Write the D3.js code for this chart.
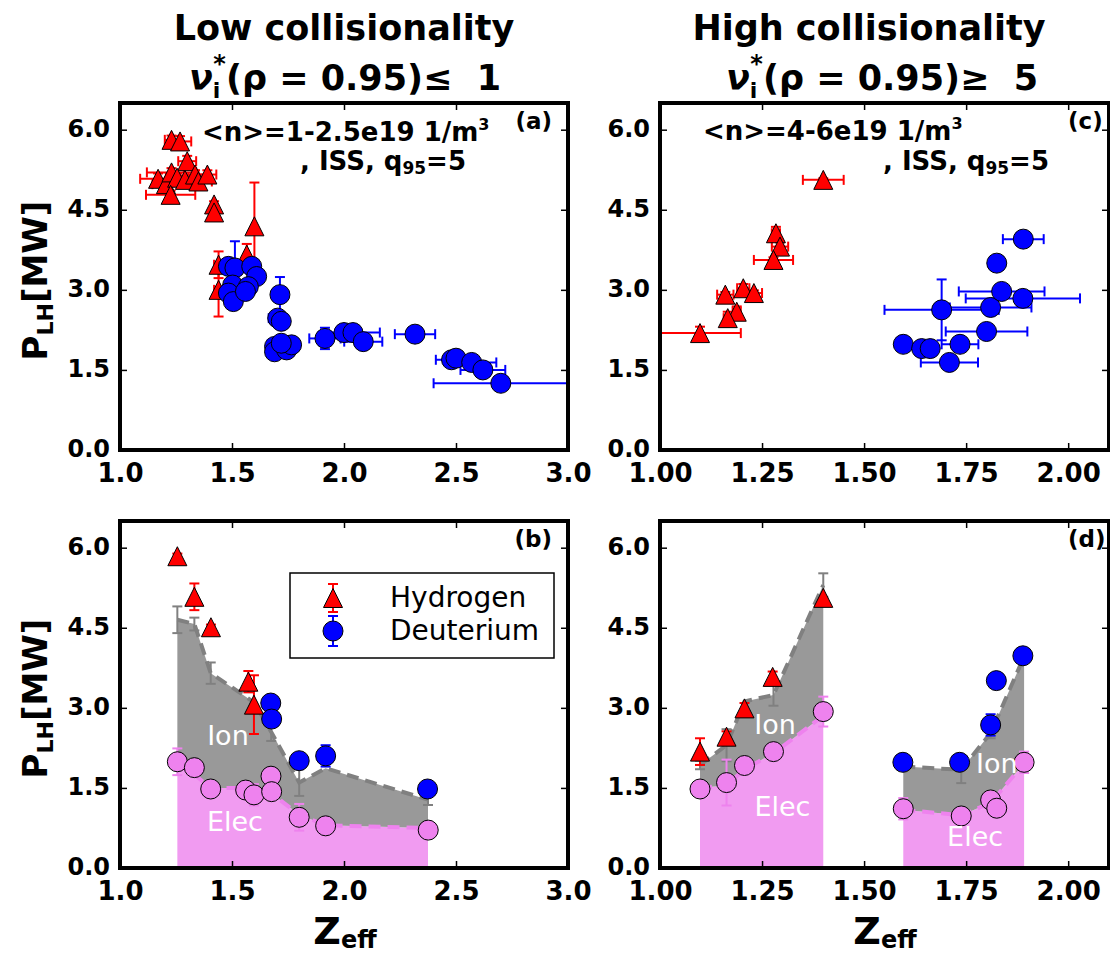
<!DOCTYPE html>
<html><head><meta charset="utf-8">
<script src="https://cdn.jsdelivr.net/npm/d3@7"></script>
<style>
body{margin:0;background:#fff}
svg{display:block}
text{font-family:"DejaVu Sans",sans-serif}
</style>
</head><body>
<svg id="chart" width="1110" height="956"></svg>
<script>
// ---------------- DATA ----------------
const yTicks = [0.0, 1.5, 3.0, 4.5, 6.0];
const xTicksLow = [1.0, 1.5, 2.0, 2.5, 3.0];
const xTicksHigh = [1.00, 1.25, 1.50, 1.75, 2.00];
const legendLabels = ["Hydrogen", "Deuterium"];

// (a) low collisionality, Hydrogen
const aH_z    = [1.23, 1.268, 1.30, 1.17, 1.205, 1.23, 1.255, 1.29, 1.335, 1.35, 1.39, 1.226, 1.42, 1.42, 1.60, 1.566, 1.44, 1.44];
const aH_p    = [5.81, 5.78, 5.41, 5.08, 4.98, 5.20, 5.10, 5.06, 5.16, 5.03, 5.16, 4.78, 4.60, 4.45, 4.19, 3.66, 3.47, 3.00];
const aH_zerr = [0.03, 0.05, 0.04, 0.08, 0.06, 0.11, 0.05, 0.07, 0.05, 0.06, 0.04, 0.11, 0, 0, 0, 0, 0.02, 0.02];
const aH_perr = [0.08, 0.1, 0.1, 0.1, 0.08, 0.08, 0.08, 0.08, 0.08, 0.08, 0.08, 0.08, 0.06, 0.06, 0.82, 0.2, 0.25, 0.5];
// (a) Deuterium
const aD_z    = [1.484, 1.513, 1.588, 1.61, 1.503, 1.484, 1.506, 1.573, 1.56, 1.714, 1.704, 1.72, 1.69, 1.69, 1.744, 1.766, 1.72, 1.915, 2.0, 2.04, 2.086, 2.317, 2.48, 2.50, 2.57, 2.62, 2.70];
const aD_p    = [3.44, 3.41, 3.44, 3.25, 3.09, 2.94, 2.78, 3.06, 2.97, 2.91, 2.47, 2.41, 1.94, 1.84, 1.875, 1.97, 2.0, 2.09, 2.2, 2.2, 2.03, 2.17, 1.69, 1.72, 1.64, 1.50, 1.25];
const aD_zerr = [0.03, 0.03, 0.03, 0.03, 0.02, 0.02, 0.02, 0.03, 0.03, 0.02, 0.04, 0.02, 0.02, 0.02, 0.02, 0.02, 0.02, 0.07, 0.03, 0.12, 0.085, 0.09, 0.07, 0.03, 0.11, 0.1, 0.3];
const aD_perr = [0.1, 0.5, 0.1, 0.1, 0.1, 0.1, 0.1, 0.1, 0.1, 0.33, 0.1, 0.1, 0.05, 0.05, 0.05, 0.05, 0.05, 0.2, 0.05, 0.05, 0.05, 0.05, 0.05, 0.05, 0.05, 0.05, 0.05];

// (c) high collisionality, Hydrogen
const cH_z    = [1.40, 1.284, 1.294, 1.278, 1.16, 1.204, 1.23, 1.188, 1.166, 1.098];
const cH_p    = [5.06, 4.06, 3.81, 3.56, 2.91, 3.03, 2.94, 2.59, 2.47, 2.19];
const cH_zerr = [0.05, 0.01, 0.02, 0.048, 0.02, 0.015, 0.02, 0.01, 0.01, 0.1];
const cH_perr = [0.03, 0.12, 0.08, 0.05, 0.05, 0.08, 0.05, 0.1, 0.12, 0.12];
// (c) Deuterium
const cD_z    = [1.596, 1.641, 1.662, 1.69, 1.709, 1.735, 1.80, 1.81, 1.825, 1.89, 1.837, 1.889];
const cD_p    = [1.98, 1.90, 1.90, 2.625, 1.64, 1.98, 2.22, 2.67, 3.50, 3.95, 2.97, 2.84];
const cD_zerr = [0, 0, 0, 0.14, 0.07, 0.045, 0.1, 0.1, 0.01, 0.05, 0.105, 0.14];
const cD_perr = [0, 0, 0.05, 0.57, 0.05, 0.05, 0.05, 0.15, 0, 0, 0.05, 0.05];

// (b) low collisionality, power split
const bH_z = [1.256, 1.332, 1.406, 1.573, 1.598];
const bH_p = [5.84, 5.08, 4.51, 3.49, 3.06];
const bH_perr = [0.05, 0.25, 0.05, 0.2, 0.55];
const bD_z = [1.673, 1.677, 1.80, 1.918, 2.373];
const bD_p = [3.09, 2.79, 2.01, 2.10, 1.48];
const bD_perr = [0.1, 0.1, 0.05, 0.2, 0.05];
const bE_z = [1.256, 1.332, 1.405, 1.561, 1.598, 1.674, 1.677, 1.80, 1.918, 2.376];
const bE_p = [1.99, 1.88, 1.48, 1.46, 1.37, 1.72, 1.43, 0.95, 0.79, 0.71];
const bE_perr = [0.25, 0, 0, 0, 0.2, 0, 0.15, 0.25, 0, 0];
const bFill_z      = [1.256, 1.332, 1.405, 1.565, 1.598, 1.675, 1.80, 1.918, 2.375];
const bFill_elec   = [1.95, 1.75, 1.50, 1.50, 1.45, 1.40, 1.00, 0.80, 0.75];
const bFill_tot    = [4.65, 4.57, 3.65, 3.20, 3.10, 2.55, 1.60, 1.87, 1.28];
const bFill_toterr = [0.25, 0.12, 0.2, 0, 0, 0.17, 0.25, 0, 0.1];

// (d) high collisionality, power split
const dH_z = [1.098, 1.163, 1.207, 1.276, 1.40];
const dH_p = [2.18, 2.46, 2.99, 3.58, 5.06];
const dH_perr = [0.25, 0.1, 0.1, 0.1, 0];
const dD_z = [1.595, 1.734, 1.81, 1.824, 1.889];
const dD_p = [1.98, 1.98, 2.68, 3.51, 3.975];
const dD_perr = [0, 0, 0.2, 0, 0];
const dE_z = [1.098, 1.163, 1.207, 1.278, 1.40, 1.596, 1.738, 1.81, 1.825, 1.892];
const dE_p = [1.48, 1.60, 1.92, 2.18, 2.93, 1.11, 0.975, 1.275, 1.12, 1.98];
const dE_perr = [0, 0.43, 0, 0.1, 0.28, 0.2, 0, 0, 0, 0.2];
const d1Fill_z      = [1.098, 1.163, 1.207, 1.278, 1.40];
const d1Fill_elec   = [1.50, 1.55, 1.85, 2.15, 2.85];
const d1Fill_tot    = [1.93, 2.30, 3.12, 3.24, 5.30];
const d1Fill_toterr = [0.08, 0.3, 0, 0.2, 0.22];
const d2Fill_z      = [1.596, 1.738, 1.81, 1.892];
const d2Fill_elec   = [1.09, 0.99, 1.22, 1.96];
const d2Fill_tot    = [1.90, 1.84, 2.53, 3.96];
const d2Fill_toterr = [0, 0.25, 0.1, 0];

// ---------------- STYLE / LAYOUT ----------------
const RED = "#ff0000", BLUE = "#0000ff", VIOLET = "#ee82ee";
const GRAYFILL = "#999999", PINKFILL = "#f19bf1", GRAYLINE = "#808080";
const colL = {left: 120, right: 568}, colR = {left: 660, right: 1109};
const rowT = {top: 103, bottom: 450}, rowB = {top: 521, bottom: 868};

const svg = d3.select("#chart");
const defs = svg.append("defs");

function makePanel(id, col, row, xdom, xticks, xfmt) {
  const x = d3.scaleLinear().domain(xdom).range([col.left, col.right]);
  const y = d3.scaleLinear().domain([0, 6.5]).range([row.bottom, row.top]);
  defs.append("clipPath").attr("id", "clip-" + id).append("rect")
    .attr("x", col.left).attr("y", row.top)
    .attr("width", col.right - col.left).attr("height", row.bottom - row.top);
  const g = svg.append("g");
  const plot = g.append("g").attr("clip-path", `url(#clip-${id})`);
  return {id, x, y, g, plot, col, row, xticks, xfmt};
}

function drawAxes(P, label) {
  const {x, y, g, col, row} = P;
  const tk = 7;
  const bottom = g.append("g").attr("transform", `translate(0,${row.bottom})`)
    .call(d3.axisBottom(x).tickValues(P.xticks).tickFormat(d3.format(P.xfmt)).tickSizeInner(-tk).tickSizeOuter(0).tickPadding(14));
  const top = g.append("g").attr("transform", `translate(0,${row.top})`)
    .call(d3.axisTop(x).tickValues(P.xticks).tickFormat("").tickSizeInner(-tk).tickSizeOuter(0));
  const left = g.append("g").attr("transform", `translate(${col.left},0)`)
    .call(d3.axisLeft(y).tickValues(yTicks).tickFormat(d3.format(".1f")).tickSizeInner(-tk).tickSizeOuter(0).tickPadding(10));
  const right = g.append("g").attr("transform", `translate(${col.right},0)`)
    .call(d3.axisRight(y).tickValues(yTicks).tickFormat("").tickSizeInner(-tk).tickSizeOuter(0));
  [bottom, top, left, right].forEach(a => {
    a.select(".domain").remove();
    a.selectAll(".tick line").attr("stroke", "#000").attr("stroke-width", 1.5);
  });
  bottom.selectAll("text").attr("font-size", 26).attr("font-weight", "bold").attr("fill", "#000")
    .attr("font-family", "DejaVu Sans");
  left.selectAll("text").attr("font-size", 24).attr("font-weight", "bold").attr("fill", "#000")
    .attr("font-family", "DejaVu Sans").attr("dy", "0.28em");
  g.append("rect").attr("x", col.left).attr("y", row.top)
    .attr("width", col.right - col.left).attr("height", row.bottom - row.top)
    .attr("fill", "none").attr("stroke", "#000").attr("stroke-width", 4);
  g.append("text").attr("x", col.right === colL.right ? 552 : 1068)
    .attr("text-anchor", col.right === colL.right ? "end" : "start")
    .attr("y", row.top + 26).attr("font-size", 23).attr("font-weight", "bold").text(label);
}

function errorBars(P, zs, ps, zerr, perr, color) {
  const cap = 5;
  const segs = [];
  zs.forEach((z, i) => {
    const e = perr ? perr[i] : 0, ez = zerr ? zerr[i] : 0;
    if (e > 0) {
      const cx = P.x(z), y1 = P.y(ps[i] - e), y2 = P.y(ps[i] + e);
      segs.push([cx, y1, cx, y2], [cx - cap, y1, cx + cap, y1], [cx - cap, y2, cx + cap, y2]);
    }
    if (ez > 0) {
      const cy = P.y(ps[i]), x1 = P.x(z - ez), x2 = P.x(z + ez);
      segs.push([x1, cy, x2, cy], [x1, cy - cap, x1, cy + cap], [x2, cy - cap, x2, cy + cap]);
    }
  });
  P.plot.append("g").selectAll("line").data(segs).join("line")
    .attr("x1", d => d[0]).attr("y1", d => d[1]).attr("x2", d => d[2]).attr("y2", d => d[3])
    .attr("stroke", color).attr("stroke-width", 2);
}

const TRI = 19;
function triPath(s) { const h = s / 2; return `M0,${-h}L${h},${h}L${-h},${h}Z`; }

function triangles(P, zs, ps) {
  P.plot.append("g").selectAll("path").data(zs).join("path")
    .attr("d", triPath(TRI))
    .attr("transform", (z, i) => `translate(${P.x(z)},${P.y(ps[i])})`)
    .attr("fill", RED).attr("stroke", "#000").attr("stroke-width", 1);
}
function circles(P, zs, ps, color) {
  P.plot.append("g").selectAll("circle").data(zs).join("circle")
    .attr("cx", z => P.x(z)).attr("cy", (z, i) => P.y(ps[i])).attr("r", 10)
    .attr("fill", color).attr("stroke", "#000").attr("stroke-width", 1);
}

function split(P, zs, elec, tot, toterr) {
  const rows = zs.map((z, i) => ({z, e: elec[i], t: tot[i]}));
  P.plot.append("path").datum(rows)
    .attr("d", d3.area().x(d => P.x(d.z)).y0(P.y(0)).y1(d => P.y(d.e)))
    .attr("fill", PINKFILL);
  P.plot.append("path").datum(rows)
    .attr("d", d3.area().x(d => P.x(d.z)).y0(d => P.y(d.e)).y1(d => P.y(d.t)))
    .attr("fill", GRAYFILL);
  P.plot.append("path").datum(rows)
    .attr("d", d3.line().x(d => P.x(d.z)).y(d => P.y(d.e)))
    .attr("fill", "none").attr("stroke", VIOLET).attr("stroke-width", 4).attr("stroke-dasharray", "12,7");
  P.plot.append("path").datum(rows)
    .attr("d", d3.line().x(d => P.x(d.z)).y(d => P.y(d.t)))
    .attr("fill", "none").attr("stroke", GRAYLINE).attr("stroke-width", 4).attr("stroke-dasharray", "12,7");
  errorBars(P, zs, tot, null, toterr, GRAYLINE);
}

function whiteLabel(P, z, p, txt) {
  P.plot.append("text").attr("x", P.x(z)).attr("y", P.y(p))
    .attr("text-anchor", "middle").attr("dominant-baseline", "central")
    .attr("font-size", 27).attr("fill", "#fff").text(txt);
}

// ---------------- PANELS ----------------
const A = makePanel("a", colL, rowT, [1.0, 3.0], xTicksLow, ".1f");
const C = makePanel("c", colR, rowT, [1.0, 2.1], xTicksHigh, ".2f");
const Bp = makePanel("b", colL, rowB, [1.0, 3.0], xTicksLow, ".1f");
const D = makePanel("d", colR, rowB, [1.0, 2.1], xTicksHigh, ".2f");

// (a)
errorBars(A, aH_z, aH_p, aH_zerr, aH_perr, RED);
triangles(A, aH_z, aH_p);
errorBars(A, aD_z, aD_p, aD_zerr, aD_perr, BLUE);
circles(A, aD_z, aD_p, BLUE);
// (c)
errorBars(C, cH_z, cH_p, cH_zerr, cH_perr, RED);
triangles(C, cH_z, cH_p);
errorBars(C, cD_z, cD_p, cD_zerr, cD_perr, BLUE);
circles(C, cD_z, cD_p, BLUE);
// (b)
split(Bp, bFill_z, bFill_elec, bFill_tot, bFill_toterr);
errorBars(Bp, bE_z, bE_p, null, bE_perr, VIOLET);
circles(Bp, bE_z, bE_p, VIOLET);
errorBars(Bp, bH_z, bH_p, null, bH_perr, RED);
triangles(Bp, bH_z, bH_p);
errorBars(Bp, bD_z, bD_p, null, bD_perr, BLUE);
circles(Bp, bD_z, bD_p, BLUE);
whiteLabel(Bp, 1.482, 2.49, "Ion");
whiteLabel(Bp, 1.513, 0.87, "Elec");
// (d)
split(D, d1Fill_z, d1Fill_elec, d1Fill_tot, d1Fill_toterr);
split(D, d2Fill_z, d2Fill_elec, d2Fill_tot, d2Fill_toterr);
errorBars(D, dE_z, dE_p, null, dE_perr, VIOLET);
circles(D, dE_z, dE_p, VIOLET);
errorBars(D, dH_z, dH_p, null, dH_perr, RED);
triangles(D, dH_z, dH_p);
errorBars(D, dD_z, dD_p, null, dD_perr, BLUE);
circles(D, dD_z, dD_p, BLUE);
whiteLabel(D, 1.282, 2.68, "Ion");
whiteLabel(D, 1.30, 1.15, "Elec");
whiteLabel(D, 1.825, 1.96, "Ion");
whiteLabel(D, 1.772, 0.59, "Elec");

drawAxes(A, "(a)");
drawAxes(C, "(c)");
drawAxes(Bp, "(b)");
drawAxes(D, "(d)");

// ---------------- ANNOTATIONS ----------------
function density(x, y, txt) {
  const t = svg.append("text").attr("x", x).attr("y", y).attr("font-size", 26).attr("font-weight", "bold");
  t.append("tspan").text(txt);
  t.append("tspan").attr("font-size", 16).attr("dy", -11).text("3");
}
function iss(x, y) {
  const t = svg.append("text").attr("x", x).attr("y", y).attr("font-size", 26).attr("font-weight", "bold")
    .style("white-space", "pre");
  t.append("tspan").text(", ISS, q");
  t.append("tspan").attr("font-size", 17).attr("dy", 4).text("95");
  t.append("tspan").attr("dy", -4).text("=5");
}
density(202, 141, "<n>=1-2.5e19 1/m");
iss(300, 170);
density(703, 140, "<n>=4-6e19 1/m");
iss(883, 170);

// Titles
function title(cx1, cx2, line1, rel, val) {
  svg.append("text").attr("x", cx1).attr("y", 40).attr("text-anchor", "middle")
    .attr("font-size", 35).attr("font-weight", "bold").text(line1);
  const t = svg.append("text").attr("x", cx2).attr("y", 90).attr("text-anchor", "middle")
    .attr("font-size", 35).attr("font-weight", "bold").style("white-space", "pre");
  t.append("tspan").attr("font-style", "italic").text("ν");
  t.append("tspan").attr("font-size", 22).attr("dy", 8).text("i");
  t.append("tspan").attr("font-size", 24).attr("dx", -7).attr("dy", -26).text("*");
  t.append("tspan").attr("dy", 18).text("(ρ = 0.95)" + rel + "  " + val);
}
title(344, 345, "Low collisionality", "≤", "1");
title(869, 882, "High collisionality", "≥", "5");

// Axis labels
function ylabel(cy) {
  const t = svg.append("text").attr("transform", `translate(47,${cy}) rotate(-90)`)
    .attr("text-anchor", "middle").attr("font-size", 34).attr("font-weight", "bold");
  t.append("tspan").text("P");
  t.append("tspan").attr("font-size", 22).attr("dy", 6).text("LH");
  t.append("tspan").attr("dy", -6).text("[MW]");
}
ylabel((rowT.top + rowT.bottom) / 2 + 4);
ylabel((rowB.top + rowB.bottom) / 2 + 4);
function xlabel(cx) {
  const t = svg.append("text").attr("x", cx).attr("y", 944).attr("text-anchor", "middle")
    .attr("font-size", 38).attr("font-weight", "bold");
  t.append("tspan").text("Z");
  t.append("tspan").attr("font-size", 24).attr("dy", 4).text("eff");
}
xlabel(345);
xlabel(885);

// Legend (panel b)
const lg = svg.append("g");
lg.append("rect").attr("x", 290).attr("y", 573).attr("width", 264).attr("height", 85)
  .attr("fill", "#fff").attr("stroke", "#000").attr("stroke-width", 1.5);
const legColors = [RED, BLUE];
const legY = [598, 631];
legendLabels.forEach((lab, i) => {
  const cx = 333, cy = legY[i], e = i === 0 ? 14 : 15;
  lg.append("line").attr("x1", cx).attr("x2", cx).attr("y1", cy - e).attr("y2", cy + e)
    .attr("stroke", legColors[i]).attr("stroke-width", 2);
  lg.append("line").attr("x1", cx - 5).attr("x2", cx + 5).attr("y1", cy - e).attr("y2", cy - e)
    .attr("stroke", legColors[i]).attr("stroke-width", 2);
  lg.append("line").attr("x1", cx - 5).attr("x2", cx + 5).attr("y1", cy + e).attr("y2", cy + e)
    .attr("stroke", legColors[i]).attr("stroke-width", 2);
  if (i === 0) {
    lg.append("path").attr("d", triPath(TRI)).attr("transform", `translate(${cx},${cy})`)
      .attr("fill", RED).attr("stroke", "#000").attr("stroke-width", 1);
  } else {
    lg.append("circle").attr("cx", cx).attr("cy", cy).attr("r", 10)
      .attr("fill", BLUE).attr("stroke", "#000").attr("stroke-width", 1);
  }
  lg.append("text").attr("x", 390).attr("y", cy + 9).attr("font-size", 28).text(lab);
});
</script>
</body></html>
